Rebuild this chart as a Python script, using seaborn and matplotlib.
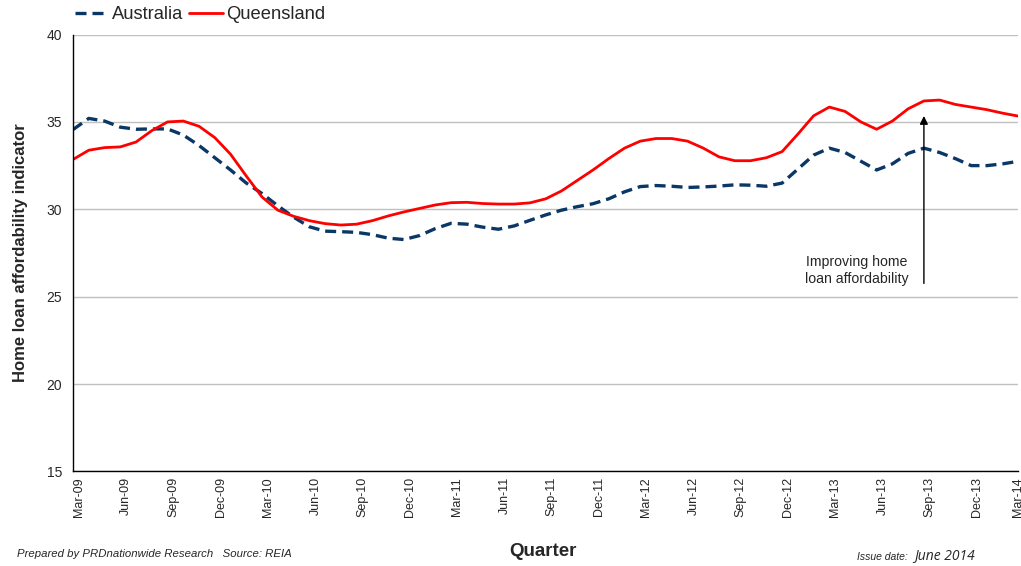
import numpy as np
import pandas as pd
import matplotlib
matplotlib.use("Agg")
import matplotlib.pyplot as plt
import seaborn as sns

# Quarter tick labels (one every third month)
quarters = ['Mar-09', 'Jun-09', 'Sep-09', 'Dec-09', 'Mar-10', 'Jun-10', 'Sep-10',
            'Dec-10', 'Mar-11', 'Jun-11', 'Sep-11', 'Dec-11', 'Mar-12', 'Jun-12',
            'Sep-12', 'Dec-12', 'Mar-13', 'Jun-13', 'Sep-13', 'Dec-13', 'Mar-14']

# Curve at monthly steps, Mar-09 .. Mar-14
australia = [34.56, 35.2, 35.05, 34.7, 34.58, 34.6, 34.6, 34.25, 33.65, 32.95,
             32.25, 31.5, 30.9, 30.2, 29.55, 29.0, 28.75, 28.72, 28.68, 28.55,
             28.35, 28.27, 28.5, 28.9, 29.2, 29.15, 28.98, 28.86, 29.05, 29.37,
             29.68, 29.95, 30.15, 30.32, 30.6, 31.0, 31.3, 31.36, 31.32, 31.25,
             31.28, 31.33, 31.4, 31.38, 31.32, 31.5, 32.3, 33.1, 33.5, 33.25,
             32.75, 32.25, 32.6, 33.2, 33.5, 33.25, 32.9, 32.5, 32.5, 32.6, 32.75]

queensland = [32.85, 33.38, 33.53, 33.57, 33.85, 34.5, 35.0, 35.05, 34.75, 34.1,
              33.15, 31.9, 30.7, 29.95, 29.6, 29.35, 29.18, 29.1, 29.15, 29.35,
              29.62, 29.85, 30.05, 30.25, 30.38, 30.4, 30.33, 30.3, 30.3, 30.37,
              30.6, 31.05, 31.65, 32.25, 32.9, 33.5, 33.9, 34.05, 34.05, 33.9,
              33.5, 33.0, 32.78, 32.78, 32.95, 33.3, 34.3, 35.35, 35.85, 35.6,
              35.0, 34.58, 35.05, 35.75, 36.2, 36.25, 36.0, 35.85, 35.7, 35.5, 35.33]

months = np.arange(len(australia))
df = pd.DataFrame({'month': months, 'Australia': australia, 'Queensland': queensland})

sns.set_style("white")
plt.rcParams['font.family'] = ['Liberation Sans', 'DejaVu Sans']

fig = plt.figure(figsize=(10.21, 5.66), dpi=100)
ax = fig.add_axes([0.0715, 0.167, 0.926, 0.772])

sns.lineplot(data=df, x='month', y='Australia', ax=ax, color='#0a3766',
             linewidth=2.4, label='Australia')
ax.lines[-1].set_dashes((3.3, 1.8))
sns.lineplot(data=df, x='month', y='Queensland', ax=ax, color='#ff0000',
             linewidth=2.0, label='Queensland')
for ln in ax.lines:
    ln.set_solid_joinstyle('round')
    ln.set_dash_joinstyle('round')

ax.set_xlim(0, len(months) - 1)
ax.set_ylim(15, 40)
ax.set_yticks(np.arange(15, 41, 5))
ax.yaxis.grid(True, color='#c0c0c0', linewidth=1.0)
ax.set_axisbelow(True)
for s in ['top', 'right']:
    ax.spines[s].set_visible(False)
for s in ['left', 'bottom']:
    ax.spines[s].set_color('black')
    ax.spines[s].set_linewidth(1.0)

ax.set_xticks(months[::3])
ax.set_xticklabels(quarters, rotation=90, fontsize=9, ha='left')
# last label sits at the right edge, centre it so most of it shows
ax.get_xticklabels()[-1].set_ha('center')
ax.tick_params(axis='x', length=0, pad=4)
ax.tick_params(axis='y', length=0, pad=8, labelsize=10)

ax.set_xlabel('')
ax.set_ylabel('Home loan affordability indicator', fontsize=12,
              fontweight='bold', labelpad=13)

# annotation arrow at Sep-13
ax.annotate('', xy=(54, 35.5), xytext=(54, 25.6),
            arrowprops=dict(arrowstyle='-|>', color='black', lw=1.0,
                            mutation_scale=12))
ax.text(53.0, 26.5, 'Improving home\nloan affordability', ha='right',
        va='center', multialignment='center', fontsize=10.2)

ax.get_legend().remove()
fig.legend(*ax.get_legend_handles_labels(), loc='upper left',
           bbox_to_anchor=(0.057, 1.018), ncol=2, frameon=False,
           fontsize=13.2, handlelength=1.85, handletextpad=0.2,
           columnspacing=0.3)

fig.text(0.532, 0.025, 'Quarter', ha='center', va='center', fontsize=13.5,
         fontweight='bold')
fig.text(0.017, 0.021, 'Prepared by PRDnationwide Research   Source: REIA',
         ha='left', va='center', fontsize=8.2, style='italic')
fig.text(0.839, 0.016, 'Issue date:', ha='left', va='center', fontsize=7.5,
         style='italic')
fig.text(0.895, 0.018, 'June 2014', ha='left', va='center', fontsize=10,
         style='italic', family=['Open Sans', 'DejaVu Sans'])

fig.savefig('out.png', dpi=100)
